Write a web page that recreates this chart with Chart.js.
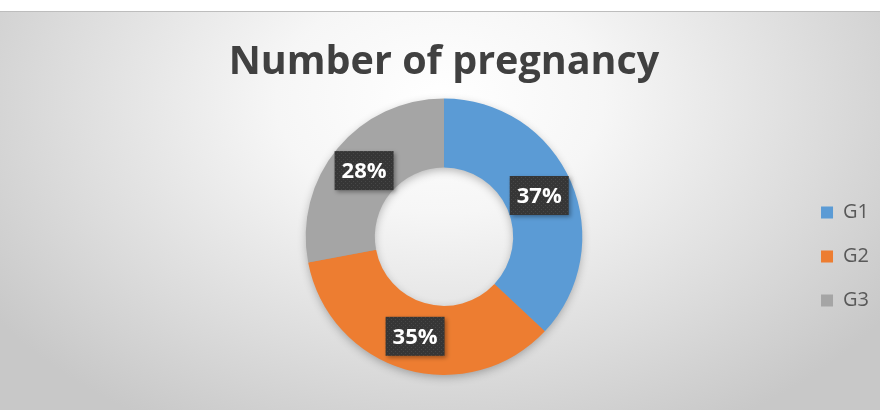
<!DOCTYPE html>
<html>
<head>
<meta charset="utf-8">
<script src="https://cdn.jsdelivr.net/npm/chart.js@4.4.1/dist/chart.umd.min.js"></script>
<style>
    html, body { margin: 0; padding: 0; background: #ffffff; }
    #frame {
        position: absolute;
        left: 0;
        top: 11px;
        width: 880px;
        height: 398px;
        border-top: 1px solid #bdbdbd;
        background: radial-gradient(ellipse 62% 95% at 50% 22%, #ffffff 0%, #f6f6f6 30%, #dcdcdc 70%, #c8c8c8 100%);
    }
    canvas { display: block; }
</style>
</head>
<body>
<div id="frame"><canvas id="chart" width="880" height="398"></canvas></div>
<script>
const groups = ['G1', 'G2', 'G3'];
const shares = [37, 35, 28];
const sliceColors = ['#5B9BD5', '#ED7D31', '#A5A5A5'];

// soft drop shadow under the whole ring, painted before the slices
const ringShadowPlugin = {
    id: 'ringShadow',
    beforeDatasetsDraw(chart) {
        const arc = chart.getDatasetMeta(0).data[0];
        if (!arc) return;
        const { x, y, innerRadius, outerRadius } = arc.getProps(['x', 'y', 'innerRadius', 'outerRadius'], true);
        const ctx = chart.ctx;
        ctx.save();
        ctx.shadowColor = 'rgba(0, 0, 0, 0.3)';
        ctx.shadowBlur = 10;
        ctx.shadowOffsetY = 3;
        ctx.fillStyle = '#999999';
        ctx.beginPath();
        ctx.arc(x, y, outerRadius - 1, 0, Math.PI * 2);
        ctx.arc(x, y, innerRadius + 1, 0, Math.PI * 2, true);
        ctx.fill();
        ctx.restore();
    }
};

// dark dotted fill for the value boxes
function dottedFill(ctx) {
    const tile = document.createElement('canvas');
    tile.width = 4;
    tile.height = 4;
    const t = tile.getContext('2d');
    t.fillStyle = '#363636';
    t.fillRect(0, 0, 4, 4);
    t.fillStyle = '#474747';
    t.fillRect(1, 1, 1, 1);
    t.fillRect(3, 3, 1, 1);
    return ctx.createPattern(tile, 'repeat');
}

const valueLabelPlugin = {
    id: 'valueLabels',
    afterDatasetsDraw(chart) {
        const ctx = chart.ctx;
        const meta = chart.getDatasetMeta(0);
        const values = chart.data.datasets[0].data;
        const fill = dottedFill(ctx);
        ctx.save();
        ctx.font = 'bold 22px "Open Sans"';
        ctx.textAlign = 'center';
        ctx.textBaseline = 'middle';
        meta.data.forEach((arc, i) => {
            const p = arc.tooltipPosition();
            const text = values[i] + '%';
            const w = ctx.measureText(text).width + 14;
            const h = 39;
            ctx.save();
            ctx.shadowColor = 'rgba(0, 0, 0, 0.35)';
            ctx.shadowBlur = 4;
            ctx.shadowOffsetX = 2;
            ctx.shadowOffsetY = 2;
            ctx.fillStyle = fill;
            ctx.fillRect(p.x - w / 2, p.y - h / 2, w, h);
            ctx.restore();
            ctx.fillStyle = '#ffffff';
            ctx.fillText(text, p.x, p.y + 1);
        });
        ctx.restore();
    }
};

const ctx = document.getElementById('chart').getContext('2d');
new Chart(ctx, {
    type: 'doughnut',
    data: {
        labels: groups,
        datasets: [{
            data: shares,
            backgroundColor: sliceColors,
            borderWidth: 0,
            hoverOffset: 0
        }]
    },
    options: {
        responsive: false,
        animation: false,
        devicePixelRatio: 1,
        cutout: '50%',
        layout: {
            padding: { top: 10, bottom: 35, left: 91, right: 1 }
        },
        plugins: {
            title: {
                display: true,
                fullSize: false,
                text: 'Number of pregnancy',
                color: '#404040',
                font: { family: '"Open Sans"', size: 39.5, weight: 'bold', lineHeight: 1.2 },
                padding: { top: 17, bottom: 12 }
            },
            legend: {
                position: 'right',
                fullSize: false,
                // empty title only pushes the keys a little lower
                title: { display: true, text: '', padding: { top: 25, bottom: 0 } },
                labels: {
                    boxWidth: 12,
                    boxHeight: 12,
                    padding: 24,
                    color: '#595959',
                    font: { family: '"Open Sans"', size: 20 }
                }
            },
            tooltip: { enabled: false }
        }
    },
    plugins: [ringShadowPlugin, valueLabelPlugin]
});
</script>
</body>
</html>
